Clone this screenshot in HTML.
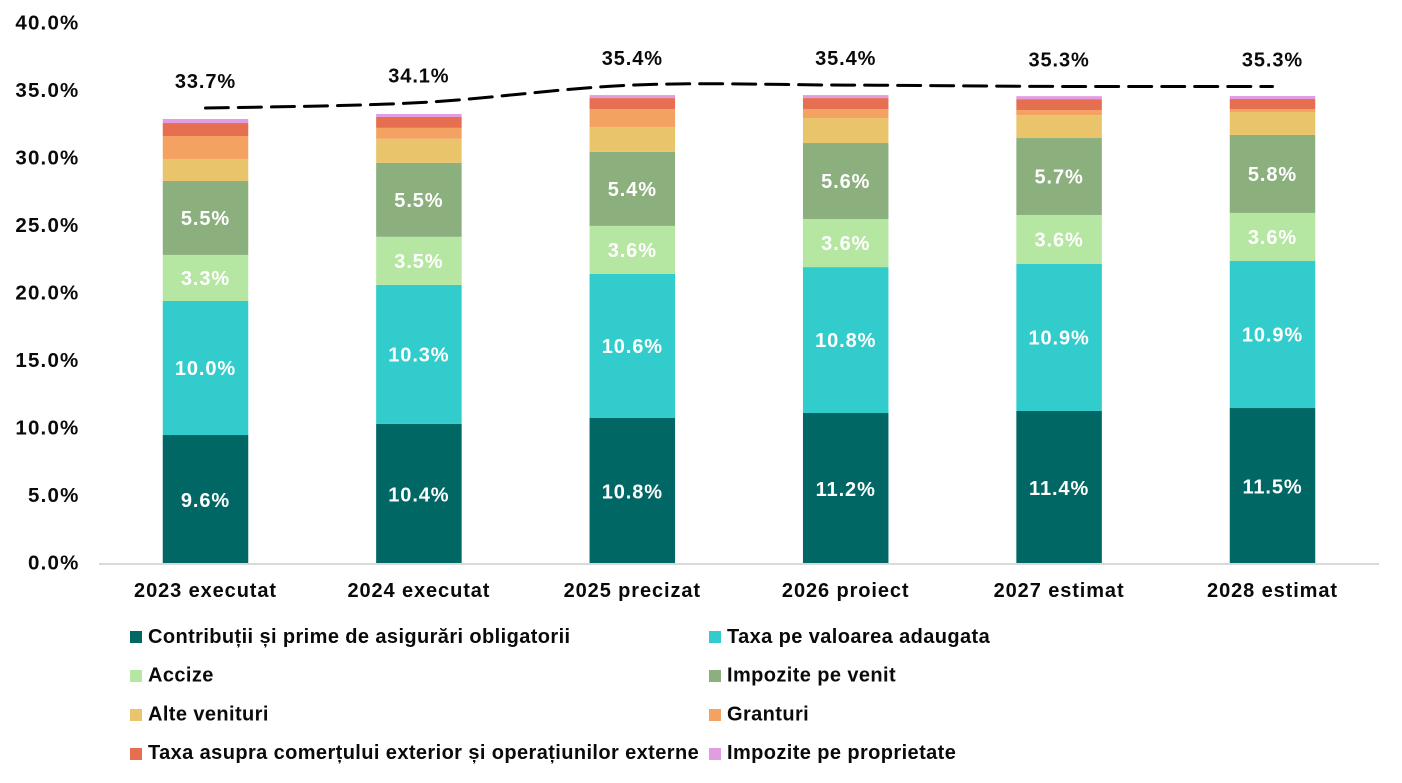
<!DOCTYPE html>
<html lang="ro">
<head>
<meta charset="utf-8">
<title>Venituri bugetare</title>
<style>
html,body{margin:0;padding:0;background:#fff;width:1402px;height:783px;overflow:hidden}
svg{display:block}
text{font-family:"Liberation Sans",sans-serif;font-weight:700;dominant-baseline:central}
.tick{font-size:20.5px;fill:#0a0a0a;text-anchor:end;letter-spacing:1.2px}
.cat{font-size:20px;fill:#0a0a0a;text-anchor:middle;letter-spacing:.9px}
.leg{font-size:20px;fill:#0a0a0a;letter-spacing:.4px}
.val{font-size:20px;fill:#fff;text-anchor:middle;letter-spacing:.9px}
.tot{font-size:20px;fill:#0a0a0a;text-anchor:middle;letter-spacing:.9px}
</style>
</head>
<body>
<svg id="chart" xmlns="http://www.w3.org/2000/svg" width="1402" height="783" viewBox="0 0 1402 783"></svg>
<script>
const categories = ["2023 executat","2024 executat","2025 precizat","2026 proiect","2027 estimat","2028 estimat"];
const yTicks = [0,5,10,15,20,25,30,35,40];
const contributii = [9.48,10.30,10.74,11.11,11.26,11.48];
const tva = [9.93,10.30,10.67,10.81,10.89,10.89];
const accize = [3.41,3.56,3.56,3.56,3.63,3.56];
const impoziteVenit = [5.48,5.48,5.48,5.63,5.70,5.78];
const alteVenituri = [1.63,1.78,1.85,1.85,1.70,1.70];
const granturi = [1.70,0.81,1.33,0.67,0.37,0.22];
const taxaComert = [0.96,0.81,0.81,0.81,0.81,0.74];
const impozitProprietate = [0.30,0.22,0.22,0.22,0.22,0.22];
const totals = [33.7,34.1,35.4,35.4,35.3,35.3];
const contributiiLabels = ["9.6%","10.4%","10.8%","11.2%","11.4%","11.5%"];
const tvaLabels = ["10.0%","10.3%","10.6%","10.8%","10.9%","10.9%"];
const accizeLabels = ["3.3%","3.5%","3.6%","3.6%","3.6%","3.6%"];
const venitLabels = ["5.5%","5.5%","5.4%","5.6%","5.7%","5.8%"];
const totalLabels = ["33.7%","34.1%","35.4%","35.4%","35.3%","35.3%"];
const seriesNames = ["Contribuții și prime de asigurări obligatorii","Taxa pe valoarea adaugata","Accize","Impozite pe venit","Alte venituri","Granturi","Taxa asupra comerțului exterior și operațiunilor externe","Impozite pe proprietate"];

const NS = "http://www.w3.org/2000/svg";
const svg = document.getElementById("chart");
const seriesValues = [contributii,tva,accize,impoziteVenit,alteVenituri,granturi,taxaComert,impozitProprietate];
const seriesLabels = [contributiiLabels,tvaLabels,accizeLabels,venitLabels,null,null,null,null];
const seriesColors = ["#016765","#33cccc","#b5e6a2","#8bb07e","#e9c46a","#f4a261","#e76f51","#e29ce0"];

const plotLeft = 99, plotRight = 1379, baseY = 563, pxPerUnit = 13.5, bandW = 213.4, firstCenter = 205.5, barW = 85.5;
function yScale(v){ return baseY - v * pxPerUnit; }
function xScale(i){ return firstCenter + i * bandW; }
function make(tag, attrs, parent){
  const el = document.createElementNS(NS, tag);
  for (const k in attrs) el.setAttribute(k, attrs[k]);
  (parent || svg).appendChild(el);
  return el;
}
function slug(s){ return s.toLowerCase().normalize("NFD").replace(/[^a-z0-9]+/g,"-").replace(/^-|-$/g,""); }

// y axis ticks
yTicks.forEach(function(t){
  const el = make("text",{x:79.5,y:yScale(t),class:"tick"});
  el.textContent = t.toFixed(1) + "%";
  
  
});

// bars
seriesValues.forEach(function(vals, s){
  const g = make("g",{});
  
  
  vals.forEach(function(v, i){
    let below = 0;
    for (let k = 0; k < s; k++) below += seriesValues[k][i];
    const top = yScale(below + v), bottom = yScale(below);
    const r = make("rect",{x:xScale(i)-barW/2,y:top,width:barW,height:bottom-top,fill:seriesColors[s]},g);
    
    
  });
});

// bar value labels
seriesLabels.forEach(function(labels, s){
  if (!labels) return;
  labels.forEach(function(label, i){
    let below = 0;
    for (let k = 0; k < s; k++) below += seriesValues[k][i];
    const el = make("text",{x:xScale(i),y:yScale(below + seriesValues[s][i]/2) + (s === 0 ? 2 : 1),class:"val"});
    el.textContent = label;
    
    
  });
});

// x axis
const axis = make("line",{x1:plotLeft,x2:plotRight,y1:baseY+1,y2:baseY+1,stroke:"#d9d9d9","stroke-width":2});


categories.forEach(function(c, i){
  const el = make("text",{x:xScale(i),y:591,class:"cat"});
  el.textContent = c;
  
  
});

// smoothed dashed total line
const pts = totals.map(function(v, i){ return [xScale(i), yScale(v)]; });
let d = "M" + pts[0][0] + " " + pts[0][1];
for (let i = 0; i < pts.length - 1; i++) {
  const p0 = pts[Math.max(i-1,0)], p1 = pts[i], p2 = pts[i+1], p3 = pts[Math.min(i+2,pts.length-1)];
  d += " C" + (p1[0]+(p2[0]-p0[0])/6) + " " + (p1[1]+(p2[1]-p0[1])/6) + " " + (p2[0]-(p3[0]-p1[0])/6) + " " + (p2[1]-(p3[1]-p1[1])/6) + " " + p2[0] + " " + p2[1];
}
const line = make("path",{d:d,fill:"none",stroke:"#000","stroke-width":3,"stroke-dasharray":"23 10","stroke-linecap":"round"});


totalLabels.forEach(function(label, i){
  const el = make("text",{x:xScale(i),y:yScale(totals[i])-26,class:"tot"});
  el.textContent = label;
  
  
});

// legend
seriesNames.forEach(function(name, s){
  const col = s % 2, row = Math.floor(s / 2);
  const g = make("g",{});
  
  
  const sw = make("rect",{x:col ? 709 : 130,y:631 + row * 39,width:12,height:12,fill:seriesColors[s]},g);
  
  
  const t = make("text",{x:col ? 727 : 148,y:637 + row * 38.7,class:"leg"},g);
  t.textContent = name;
  
  
});
</script>
</body>
</html>
